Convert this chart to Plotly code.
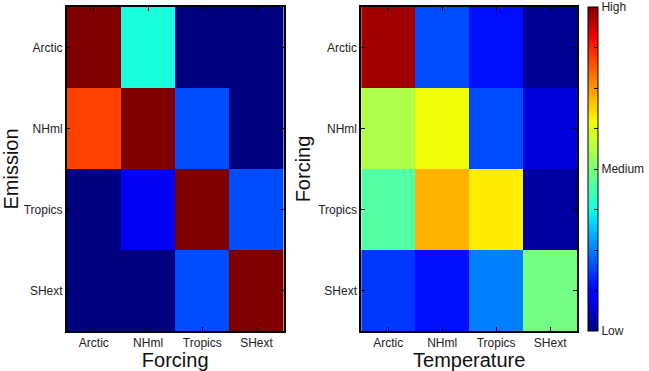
import numpy as np
import plotly.graph_objects as go

regions = ["Arctic", "NHml", "Tropics", "SHext"]

# Left: rows = Emission, cols = Forcing
emission_forcing = [
    [1.00, 0.38, 0.00, 0.00],
    [0.84, 1.00, 0.20, 0.00],
    [0.00, 0.10, 1.00, 0.20],
    [0.00, 0.00, 0.20, 1.00],
]
# Right: rows = Forcing, cols = Temperature
forcing_temperature = [
    [0.97, 0.20, 0.14, 0.02],
    [0.56, 0.64, 0.20, 0.08],
    [0.45, 0.72, 0.66, 0.03],
    [0.18, 0.14, 0.25, 0.49],
]
cbar_vals = [0, 0.125, 0.25, 0.375, 0.5, 0.625, 0.75, 0.875, 1.0]
cbar_text = ["Low", "", "", "", "Medium", "", "", "", "High"]

# matplotlib 'jet' colormap
_r = [(0, 0), (0.35, 0), (0.66, 1), (0.89, 1), (1, 0.5)]
_g = [(0, 0), (0.125, 0), (0.375, 1), (0.64, 1), (0.91, 0), (1, 0)]
_b = [(0, 0.5), (0.11, 1), (0.34, 1), (0.65, 0), (1, 0)]


def _interp(seg, t):
    xs = [p[0] for p in seg]
    ys = [p[1] for p in seg]
    return float(np.interp(t, xs, ys))


jet = []
for t in np.linspace(0, 1, 101):
    r, g, b = (_interp(s, t) for s in (_r, _g, _b))
    jet.append([float(t), f"rgb({round(r*255)},{round(g*255)},{round(b*255)})"])

font = "Liberation Sans, Arial, sans-serif"
fig = go.Figure()
fig.add_trace(go.Heatmap(
    z=emission_forcing, x=regions, y=regions, colorscale=jet, zmin=0, zmax=1,
    showscale=False, xaxis="x", yaxis="y"))
fig.add_trace(go.Heatmap(
    z=forcing_temperature, x=regions, y=regions, colorscale=jet, zmin=0, zmax=1,
    xaxis="x2", yaxis="y2",
    colorbar=dict(
        x=599/649, xanchor="left", y=(371-331)/371, yanchor="bottom",
        len=324/371, lenmode="fraction", thickness=10,
        outlinecolor="black", outlinewidth=1,
        tickvals=cbar_vals, ticktext=cbar_text, ticks="inside", ticklen=4,
        tickcolor="black", tickfont=dict(size=12, color="#222", family=font),
        ypad=0, xpad=0)))

ydom = [(371-331)/371, (371-7)/371]
axis_common = dict(showline=True, linecolor="black", linewidth=1.5, mirror="ticks",
                   ticks="inside", ticklen=4, tickcolor="black", showgrid=False,
                   zeroline=False, tickfont=dict(size=12, color="#222", family=font))
fig.update_layout(
    width=649, height=371, margin=dict(l=0, r=0, t=0, b=0),
    paper_bgcolor="white", plot_bgcolor="white",
    font=dict(family=font, color="#111"),
    xaxis=dict(domain=[68/649, 289/649], anchor="y",
               title=dict(text="Forcing", font=dict(size=20), standoff=0), **axis_common),
    yaxis=dict(domain=ydom, anchor="x", autorange="reversed",
               title=dict(text="Emission", font=dict(size=20), standoff=2), **axis_common),
    xaxis2=dict(domain=[368/649, 588/649], anchor="y2",
                title=dict(text="Temperature", font=dict(size=20), standoff=0), **axis_common),
    yaxis2=dict(domain=ydom, anchor="x2", autorange="reversed",
                title=dict(text="Forcing", font=dict(size=20), standoff=2), **axis_common),
)
fig.write_html("out.html")
